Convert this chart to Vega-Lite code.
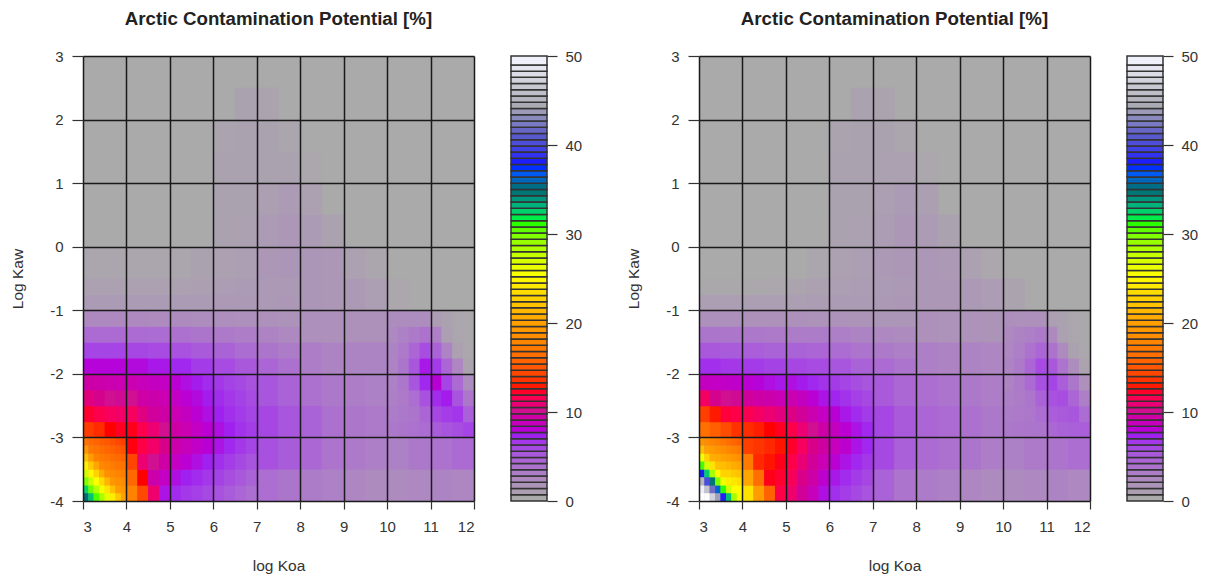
{"$schema":"https://vega.github.io/schema/vega-lite/v6.json","background":"white","padding":{"left":10,"top":10,"right":0,"bottom":0},
"config":{"view":{"stroke":null},"font":"Liberation Sans"},
"datasets":{
"bar":[{"a":0,"b":0.7},{"a":0.7,"b":1.4},{"a":1.4,"b":2.1},{"a":2.1,"b":2.8},{"a":2.8,"b":3.5},{"a":3.5,"b":4.2},{"a":4.2,"b":4.9},{"a":4.9,"b":5.6},{"a":5.6,"b":6.3},{"a":6.3,"b":7},{"a":7,"b":7.7},{"a":7.7,"b":8.4},{"a":8.4,"b":9.1},{"a":9.1,"b":9.8},{"a":9.8,"b":10.5},{"a":10.5,"b":11.2},{"a":11.2,"b":11.9},{"a":11.9,"b":12.6},{"a":12.6,"b":13.3},{"a":13.3,"b":14},{"a":14,"b":14.7},{"a":14.7,"b":15.4},{"a":15.4,"b":16.1},{"a":16.1,"b":16.8},{"a":16.8,"b":17.5},{"a":17.5,"b":18.2},{"a":18.2,"b":18.9},{"a":18.9,"b":19.6},{"a":19.6,"b":20.3},{"a":20.3,"b":21},{"a":21,"b":21.7},{"a":21.7,"b":22.4},{"a":22.4,"b":23.1},{"a":23.1,"b":23.8},{"a":23.8,"b":24.5},{"a":24.5,"b":25.2},{"a":25.2,"b":25.9},{"a":25.9,"b":26.6},{"a":26.6,"b":27.3},{"a":27.3,"b":28},{"a":28,"b":28.7},{"a":28.7,"b":29.4},{"a":29.4,"b":30.1},{"a":30.1,"b":30.8},{"a":30.8,"b":31.5},{"a":31.5,"b":32.2},{"a":32.2,"b":32.9},{"a":32.9,"b":33.6},{"a":33.6,"b":34.3},{"a":34.3,"b":35},{"a":35,"b":35.7},{"a":35.7,"b":36.4},{"a":36.4,"b":37.1},{"a":37.1,"b":37.8},{"a":37.8,"b":38.5},{"a":38.5,"b":39.2},{"a":39.2,"b":39.9},{"a":39.9,"b":40.6},{"a":40.6,"b":41.3},{"a":41.3,"b":42},{"a":42,"b":42.7},{"a":42.7,"b":43.4},{"a":43.4,"b":44.1},{"a":44.1,"b":44.8},{"a":44.8,"b":45.5},{"a":45.5,"b":46.2},{"a":46.2,"b":46.9},{"a":46.9,"b":47.6},{"a":47.6,"b":48.3},{"a":48.3,"b":49},{"a":49,"b":50}],
"a_f":[
{"x":3.06,"y":-3.94,"v":34.6},{"x":3.19,"y":-3.94,"v":32.5},{"x":3.31,"y":-3.94,"v":30.4},{"x":3.44,"y":-3.94,"v":28.3},{"x":3.56,"y":-3.94,"v":26.1},{"x":3.69,"y":-3.94,"v":24},{"x":3.81,"y":-3.94,"v":21.9},{"x":3.94,"y":-3.94,"v":19.8},
{"x":3.06,"y":-3.81,"v":32},{"x":3.19,"y":-3.81,"v":29.9},{"x":3.31,"y":-3.81,"v":27.8},{"x":3.44,"y":-3.81,"v":25.6},{"x":3.56,"y":-3.81,"v":23.5},{"x":3.69,"y":-3.81,"v":21.4},{"x":3.81,"y":-3.81,"v":19.3},{"x":3.94,"y":-3.81,"v":18.9},
{"x":3.06,"y":-3.69,"v":29.4},{"x":3.19,"y":-3.69,"v":27.3},{"x":3.31,"y":-3.69,"v":25.1},{"x":3.44,"y":-3.69,"v":23},{"x":3.56,"y":-3.69,"v":20.9},{"x":3.69,"y":-3.69,"v":18.8},{"x":3.81,"y":-3.69,"v":18.4},{"x":3.94,"y":-3.69,"v":18},
{"x":3.06,"y":-3.56,"v":26.8},{"x":3.19,"y":-3.56,"v":24.6},{"x":3.31,"y":-3.56,"v":22.5},{"x":3.44,"y":-3.56,"v":20.4},{"x":3.56,"y":-3.56,"v":18.3},{"x":3.69,"y":-3.56,"v":17.9},{"x":3.81,"y":-3.56,"v":17.5},{"x":3.94,"y":-3.56,"v":17.1},
{"x":3.06,"y":-3.44,"v":24.1},{"x":3.19,"y":-3.44,"v":22},{"x":3.31,"y":-3.44,"v":19.9},{"x":3.44,"y":-3.44,"v":17.8},{"x":3.56,"y":-3.44,"v":17.4},{"x":3.69,"y":-3.44,"v":17},{"x":3.81,"y":-3.44,"v":16.6},{"x":3.94,"y":-3.44,"v":16.3},
{"x":3.06,"y":-3.31,"v":21.5},{"x":3.19,"y":-3.31,"v":19.4},{"x":3.31,"y":-3.31,"v":17.3},{"x":3.44,"y":-3.31,"v":16.9},{"x":3.56,"y":-3.31,"v":16.5},{"x":3.69,"y":-3.31,"v":16.1},{"x":3.81,"y":-3.31,"v":15.8},{"x":3.94,"y":-3.31,"v":15.4},
{"x":3.06,"y":-3.19,"v":18.9},{"x":3.19,"y":-3.19,"v":16.8},{"x":3.31,"y":-3.19,"v":16.4},{"x":3.44,"y":-3.19,"v":16},{"x":3.56,"y":-3.19,"v":15.6},{"x":3.69,"y":-3.19,"v":15.3},{"x":3.81,"y":-3.19,"v":14.9},{"x":3.94,"y":-3.19,"v":14.5},
{"x":3.06,"y":-3.06,"v":16.3},{"x":3.19,"y":-3.06,"v":15.9},{"x":3.31,"y":-3.06,"v":15.5},{"x":3.44,"y":-3.06,"v":15.1},{"x":3.56,"y":-3.06,"v":14.8},{"x":3.69,"y":-3.06,"v":14.4},{"x":3.81,"y":-3.06,"v":14},{"x":3.94,"y":-3.06,"v":13.6}],
"a_m":[
{"x":4.13,"y":-3.88,"v":17.4},{"x":4.38,"y":-3.88,"v":14.1},{"x":4.63,"y":-3.88,"v":10.7},{"x":4.88,"y":-3.88,"v":7.3},
{"x":4.13,"y":-3.63,"v":15.7},{"x":4.38,"y":-3.63,"v":12.3},{"x":4.63,"y":-3.63,"v":8.9},{"x":4.88,"y":-3.63,"v":8.2},
{"x":4.13,"y":-3.38,"v":13.9},{"x":4.38,"y":-3.38,"v":10.6},{"x":4.63,"y":-3.38,"v":9.8},{"x":4.88,"y":-3.38,"v":9.1},
{"x":4.13,"y":-3.13,"v":12.2},{"x":4.38,"y":-3.13,"v":11.4},{"x":4.63,"y":-3.13,"v":10.8},{"x":4.88,"y":-3.13,"v":10},
{"x":3.13,"y":-2.88,"v":13.5},{"x":3.38,"y":-2.88,"v":13},{"x":3.63,"y":-2.88,"v":12.3},{"x":3.88,"y":-2.88,"v":12},{"x":4.13,"y":-2.88,"v":12.1},{"x":4.38,"y":-2.88,"v":11.3},{"x":4.63,"y":-2.88,"v":10.6},{"x":4.88,"y":-2.88,"v":9.8},
{"x":3.13,"y":-2.63,"v":11.8},{"x":3.38,"y":-2.63,"v":11.3},{"x":3.63,"y":-2.63,"v":11},{"x":3.88,"y":-2.63,"v":10.8},{"x":4.13,"y":-2.63,"v":11},{"x":4.38,"y":-2.63,"v":10.2},{"x":4.63,"y":-2.63,"v":9.4},{"x":4.88,"y":-2.63,"v":9.1},
{"x":3.13,"y":-2.38,"v":10.3},{"x":3.38,"y":-2.38,"v":9.9},{"x":3.63,"y":-2.38,"v":9.8},{"x":3.88,"y":-2.38,"v":9.7},{"x":4.13,"y":-2.38,"v":9.8},{"x":4.38,"y":-2.38,"v":9.1},{"x":4.63,"y":-2.38,"v":8.9},{"x":4.88,"y":-2.38,"v":8.7},
{"x":3.13,"y":-2.13,"v":9},{"x":3.38,"y":-2.13,"v":8.9},{"x":3.63,"y":-2.13,"v":8.8},{"x":3.88,"y":-2.13,"v":8.7},{"x":4.13,"y":-2.13,"v":8.7},{"x":4.38,"y":-2.13,"v":8.5},{"x":4.63,"y":-2.13,"v":8.3},{"x":4.88,"y":-2.13,"v":8.2},
{"x":5.13,"y":-3.88,"v":6.7},{"x":5.38,"y":-3.88,"v":6.3},{"x":5.63,"y":-3.88,"v":6},{"x":5.88,"y":-3.88,"v":5.6},{"x":6.13,"y":-3.88,"v":5.2},{"x":6.38,"y":-3.88,"v":4.7},{"x":6.63,"y":-3.88,"v":4.2},{"x":6.88,"y":-3.88,"v":3.7},
{"x":5.13,"y":-3.63,"v":7.4},{"x":5.38,"y":-3.63,"v":7},{"x":5.63,"y":-3.63,"v":6.7},{"x":5.88,"y":-3.63,"v":6.3},{"x":6.13,"y":-3.63,"v":5.9},{"x":6.38,"y":-3.63,"v":5.4},{"x":6.63,"y":-3.63,"v":4.9},{"x":6.88,"y":-3.63,"v":4.4},
{"x":5.13,"y":-3.38,"v":8.2},{"x":5.38,"y":-3.38,"v":7.8},{"x":5.63,"y":-3.38,"v":7.4},{"x":5.88,"y":-3.38,"v":7},{"x":6.13,"y":-3.38,"v":6.6},{"x":6.38,"y":-3.38,"v":6.1},{"x":6.63,"y":-3.38,"v":5.6},{"x":6.88,"y":-3.38,"v":5.1},
{"x":5.13,"y":-3.13,"v":8.9},{"x":5.38,"y":-3.13,"v":8.5},{"x":5.63,"y":-3.13,"v":8.1},{"x":5.88,"y":-3.13,"v":7.7},{"x":6.13,"y":-3.13,"v":7.3},{"x":6.38,"y":-3.13,"v":6.8},{"x":6.63,"y":-3.13,"v":6.3},{"x":6.88,"y":-3.13,"v":5.8},
{"x":5.13,"y":-2.88,"v":9.1},{"x":5.38,"y":-2.88,"v":8.7},{"x":5.63,"y":-2.88,"v":8.2},{"x":5.88,"y":-2.88,"v":7.8},{"x":6.13,"y":-2.88,"v":7.4},{"x":6.38,"y":-2.88,"v":7},{"x":6.63,"y":-2.88,"v":6.5},{"x":6.88,"y":-2.88,"v":6.1},
{"x":5.13,"y":-2.63,"v":8.7},{"x":5.38,"y":-2.63,"v":8.3},{"x":5.63,"y":-2.63,"v":7.8},{"x":5.88,"y":-2.63,"v":7.4},{"x":6.13,"y":-2.63,"v":7},{"x":6.38,"y":-2.63,"v":6.6},{"x":6.63,"y":-2.63,"v":6.2},{"x":6.88,"y":-2.63,"v":5.8},
{"x":5.13,"y":-2.38,"v":8.2},{"x":5.38,"y":-2.38,"v":7.8},{"x":5.63,"y":-2.38,"v":7.5},{"x":5.88,"y":-2.38,"v":7.1},{"x":6.13,"y":-2.38,"v":6.7},{"x":6.38,"y":-2.38,"v":6.3},{"x":6.63,"y":-2.38,"v":5.9},{"x":6.88,"y":-2.38,"v":5.5},
{"x":5.13,"y":-2.13,"v":7.8},{"x":5.38,"y":-2.13,"v":7.4},{"x":5.63,"y":-2.13,"v":7.1},{"x":5.88,"y":-2.13,"v":6.7},{"x":6.13,"y":-2.13,"v":6.3},{"x":6.38,"y":-2.13,"v":5.9},{"x":6.63,"y":-2.13,"v":5.6},{"x":6.88,"y":-2.13,"v":5.2},
{"x":10.13,"y":-2.88,"v":3.1},{"x":10.38,"y":-2.88,"v":3.3},{"x":10.63,"y":-2.88,"v":3.6},{"x":10.88,"y":-2.88,"v":3.8},{"x":11.13,"y":-2.88,"v":4.7},{"x":11.38,"y":-2.88,"v":5.1},{"x":11.63,"y":-2.88,"v":5.4},{"x":11.88,"y":-2.88,"v":5.8},
{"x":10.13,"y":-2.63,"v":2.9},{"x":10.38,"y":-2.63,"v":3.1},{"x":10.63,"y":-2.63,"v":3.3},{"x":10.88,"y":-2.63,"v":4.2},{"x":11.13,"y":-2.63,"v":5.7},{"x":11.38,"y":-2.63,"v":6.1},{"x":11.63,"y":-2.63,"v":6.4},{"x":11.88,"y":-2.63,"v":4.5},
{"x":10.13,"y":-2.38,"v":2.7},{"x":10.38,"y":-2.38,"v":3},{"x":10.63,"y":-2.38,"v":3.7},{"x":10.88,"y":-2.38,"v":5.2},{"x":11.13,"y":-2.38,"v":6.7},{"x":11.38,"y":-2.38,"v":7.1},{"x":11.63,"y":-2.38,"v":5.1},{"x":11.88,"y":-2.38,"v":3.2},
{"x":10.13,"y":-2.13,"v":2.6},{"x":10.38,"y":-2.13,"v":3.2},{"x":10.63,"y":-2.13,"v":5},{"x":10.88,"y":-2.13,"v":6.8},{"x":11.13,"y":-2.13,"v":7.7},{"x":11.38,"y":-2.13,"v":5.8},{"x":11.63,"y":-2.13,"v":3.9},{"x":11.88,"y":-2.13,"v":1.9},
{"x":10.13,"y":-1.88,"v":2.5},{"x":10.38,"y":-1.88,"v":3.3},{"x":10.63,"y":-1.88,"v":5},{"x":10.88,"y":-1.88,"v":7.2},{"x":11.13,"y":-1.88,"v":6.2},{"x":11.38,"y":-1.88,"v":4.2},{"x":11.63,"y":-1.88,"v":2.3},{"x":11.88,"y":-1.88,"v":0.4},
{"x":10.13,"y":-1.63,"v":2.4},{"x":10.38,"y":-1.63,"v":3},{"x":10.63,"y":-1.63,"v":4.2},{"x":10.88,"y":-1.63,"v":5.4},{"x":11.13,"y":-1.63,"v":4.4},{"x":11.38,"y":-1.63,"v":2.5},{"x":11.63,"y":-1.63,"v":0.6},{"x":11.88,"y":-1.63,"v":0.2},
{"x":10.13,"y":-1.38,"v":2.2},{"x":10.38,"y":-1.38,"v":2.6},{"x":10.63,"y":-1.38,"v":3},{"x":10.88,"y":-1.38,"v":3.5},{"x":11.13,"y":-1.38,"v":2.7},{"x":11.38,"y":-1.38,"v":0.7},{"x":11.63,"y":-1.38,"v":0.3},{"x":11.88,"y":-1.38,"v":0.1},
{"x":10.13,"y":-1.13,"v":1.9},{"x":10.38,"y":-1.13,"v":1.9},{"x":10.63,"y":-1.13,"v":1.9},{"x":10.88,"y":-1.13,"v":1.9},{"x":11.13,"y":-1.13,"v":0.9},{"x":11.38,"y":-1.13,"v":0.6},{"x":11.63,"y":-1.13,"v":0.3},{"x":11.88,"y":-1.13,"v":0.1}],
"a_w":[
{"x":3.25,"y":-1.88,"v":7.6},{"x":3.75,"y":-1.88,"v":7.6},{"x":4.25,"y":-1.88,"v":7.5},{"x":4.75,"y":-1.88,"v":7.2},{"x":5.25,"y":-1.88,"v":6.8},{"x":5.75,"y":-1.88,"v":6.2},{"x":6.25,"y":-1.88,"v":5.5},{"x":6.75,"y":-1.88,"v":4.9},{"x":7.25,"y":-1.88,"v":4.2},{"x":7.75,"y":-1.88,"v":3.6},
{"x":3.25,"y":-1.63,"v":5.8},{"x":3.75,"y":-1.63,"v":5.8},{"x":4.25,"y":-1.63,"v":5.7},{"x":4.75,"y":-1.63,"v":5.5},{"x":5.25,"y":-1.63,"v":5.2},{"x":5.75,"y":-1.63,"v":4.8},{"x":6.25,"y":-1.63,"v":4.3},{"x":6.75,"y":-1.63,"v":3.8},{"x":7.25,"y":-1.63,"v":3.3},{"x":7.75,"y":-1.63,"v":2.9},
{"x":3.25,"y":-1.38,"v":3.9},{"x":3.75,"y":-1.38,"v":3.9},{"x":4.25,"y":-1.38,"v":3.9},{"x":4.75,"y":-1.38,"v":3.8},{"x":5.25,"y":-1.38,"v":3.6},{"x":5.75,"y":-1.38,"v":3.3},{"x":6.25,"y":-1.38,"v":3},{"x":6.75,"y":-1.38,"v":2.8},{"x":7.25,"y":-1.38,"v":2.5},{"x":7.75,"y":-1.38,"v":2.2},
{"x":3.25,"y":-1.13,"v":2.1},{"x":3.75,"y":-1.13,"v":2.1},{"x":4.25,"y":-1.13,"v":2.1},{"x":4.75,"y":-1.13,"v":2},{"x":5.25,"y":-1.13,"v":2},{"x":5.75,"y":-1.13,"v":1.9},{"x":6.25,"y":-1.13,"v":1.8},{"x":6.75,"y":-1.13,"v":1.7},{"x":7.25,"y":-1.13,"v":1.6},{"x":7.75,"y":-1.13,"v":1.5},
{"x":3.25,"y":-0.88,"v":1},{"x":3.75,"y":-0.88,"v":1},{"x":4.25,"y":-0.88,"v":1},{"x":4.75,"y":-0.88,"v":1},{"x":5.25,"y":-0.88,"v":1},{"x":5.75,"y":-0.88,"v":1},{"x":6.25,"y":-0.88,"v":1.1},{"x":6.75,"y":-0.88,"v":1.1},{"x":7.25,"y":-0.88,"v":1.1},{"x":7.75,"y":-0.88,"v":1.2},
{"x":3.25,"y":-0.63,"v":0.6},{"x":3.75,"y":-0.63,"v":0.6},{"x":4.25,"y":-0.63,"v":0.6},{"x":4.75,"y":-0.63,"v":0.6},{"x":5.25,"y":-0.63,"v":0.6},{"x":5.75,"y":-0.63,"v":0.7},{"x":6.25,"y":-0.63,"v":0.9},{"x":6.75,"y":-0.63,"v":1},{"x":7.25,"y":-0.63,"v":1.1},{"x":7.75,"y":-0.63,"v":1.1}],
"a_c":[
{"x":7.25,"y":-3.75,"v":3.7},{"x":7.75,"y":-3.75,"v":3.3},{"x":8.25,"y":-3.75,"v":2.9},{"x":8.75,"y":-3.75,"v":2.6},{"x":9.25,"y":-3.75,"v":2.3},{"x":9.75,"y":-3.75,"v":2},{"x":10.25,"y":-3.75,"v":2},{"x":10.75,"y":-3.75,"v":2.2},{"x":11.25,"y":-3.75,"v":2.4},{"x":11.75,"y":-3.75,"v":2.3},
{"x":7.25,"y":-3.25,"v":5.3},{"x":7.75,"y":-3.25,"v":4.7},{"x":8.25,"y":-3.25,"v":4.1},{"x":8.75,"y":-3.25,"v":3.4},{"x":9.25,"y":-3.25,"v":3},{"x":9.75,"y":-3.25,"v":2.7},{"x":10.25,"y":-3.25,"v":2.6},{"x":10.75,"y":-3.25,"v":3.1},{"x":11.25,"y":-3.25,"v":3.5},{"x":11.75,"y":-3.25,"v":3.9},
{"x":7.25,"y":-2.75,"v":5.7},{"x":7.75,"y":-2.75,"v":5},{"x":8.25,"y":-2.75,"v":4.3},{"x":8.75,"y":-2.75,"v":3.6},{"x":9.25,"y":-2.75,"v":3.2},{"x":9.75,"y":-2.75,"v":3},
{"x":7.25,"y":-2.25,"v":5},{"x":7.75,"y":-2.25,"v":4.3},{"x":8.25,"y":-2.25,"v":3.6},{"x":8.75,"y":-2.25,"v":3.1},{"x":9.25,"y":-2.25,"v":2.8},{"x":9.75,"y":-2.25,"v":2.6},
{"x":8.25,"y":-1.75,"v":2.8},{"x":8.75,"y":-1.75,"v":2.4},{"x":9.25,"y":-1.75,"v":2.4},{"x":9.75,"y":-1.75,"v":2.4},
{"x":8.25,"y":-1.25,"v":1.7},{"x":8.75,"y":-1.25,"v":1.6},{"x":9.25,"y":-1.25,"v":1.6},{"x":9.75,"y":-1.25,"v":1.6},
{"x":8.25,"y":-0.75,"v":1.3},{"x":8.75,"y":-0.75,"v":1.2},{"x":9.25,"y":-0.75,"v":1.1},{"x":9.75,"y":-0.75,"v":0.8},{"x":10.25,"y":-0.75,"v":0.2},
{"x":3.25,"y":-0.25,"v":0.3},{"x":3.75,"y":-0.25,"v":0.3},{"x":4.25,"y":-0.25,"v":0.3},{"x":4.75,"y":-0.25,"v":0.3},{"x":5.25,"y":-0.25,"v":0.3},{"x":5.75,"y":-0.25,"v":0.5},{"x":6.25,"y":-0.25,"v":0.6},{"x":6.75,"y":-0.25,"v":0.8},{"x":7.25,"y":-0.25,"v":1.2},{"x":7.75,"y":-0.25,"v":1.3},{"x":8.25,"y":-0.25,"v":1.3},{"x":8.75,"y":-0.25,"v":1.2},{"x":9.25,"y":-0.25,"v":0.6},{"x":9.75,"y":-0.25,"v":0.3},
{"x":6.25,"y":0.25,"v":0.5},{"x":6.75,"y":0.25,"v":0.6},{"x":7.25,"y":0.25,"v":1},{"x":7.75,"y":0.25,"v":1.2},{"x":8.25,"y":0.25,"v":1},{"x":8.75,"y":0.25,"v":0.5},
{"x":6.25,"y":0.75,"v":0.5},{"x":6.75,"y":0.75,"v":0.5},{"x":7.25,"y":0.75,"v":0.7},{"x":7.75,"y":0.75,"v":1},{"x":8.25,"y":0.75,"v":0.6},
{"x":6.25,"y":1.25,"v":0.5},{"x":6.75,"y":1.25,"v":0.5},{"x":7.25,"y":1.25,"v":0.5},{"x":7.75,"y":1.25,"v":0.5},{"x":8.25,"y":1.25,"v":0.2},
{"x":6.25,"y":1.75,"v":0.4},{"x":6.75,"y":1.75,"v":0.5},{"x":7.25,"y":1.75,"v":0.5},{"x":7.75,"y":1.75,"v":0.3},
{"x":6.75,"y":2.25,"v":0.5},{"x":7.25,"y":2.25,"v":0.4}],
"b_f":[
{"x":3.06,"y":-3.94,"v":52.7},{"x":3.19,"y":-3.94,"v":50},{"x":3.31,"y":-3.94,"v":46.9},{"x":3.44,"y":-3.94,"v":43.6},{"x":3.56,"y":-3.94,"v":37.9},{"x":3.69,"y":-3.94,"v":32.6},{"x":3.81,"y":-3.94,"v":28.3},{"x":3.94,"y":-3.94,"v":24.8},
{"x":3.06,"y":-3.81,"v":48.9},{"x":3.19,"y":-3.81,"v":45.8},{"x":3.31,"y":-3.81,"v":41.6},{"x":3.44,"y":-3.81,"v":36},{"x":3.56,"y":-3.81,"v":30.8},{"x":3.69,"y":-3.81,"v":27},{"x":3.81,"y":-3.81,"v":25},{"x":3.94,"y":-3.81,"v":24.8},
{"x":3.06,"y":-3.69,"v":44.7},{"x":3.19,"y":-3.69,"v":39.7},{"x":3.31,"y":-3.69,"v":34.3},{"x":3.44,"y":-3.69,"v":29.5},{"x":3.56,"y":-3.69,"v":25.7},{"x":3.69,"y":-3.69,"v":24},{"x":3.81,"y":-3.69,"v":23.7},{"x":3.94,"y":-3.69,"v":23.2},
{"x":3.06,"y":-3.56,"v":37.7},{"x":3.19,"y":-3.56,"v":32.3},{"x":3.31,"y":-3.56,"v":28.2},{"x":3.44,"y":-3.56,"v":24.6},{"x":3.56,"y":-3.56,"v":22.5},{"x":3.69,"y":-3.56,"v":22.6},{"x":3.81,"y":-3.56,"v":22},{"x":3.94,"y":-3.56,"v":21.6},
{"x":3.06,"y":-3.44,"v":30.6},{"x":3.19,"y":-3.44,"v":26.8},{"x":3.31,"y":-3.44,"v":23.5},{"x":3.44,"y":-3.44,"v":21.5},{"x":3.56,"y":-3.44,"v":21.4},{"x":3.69,"y":-3.44,"v":20.9},{"x":3.81,"y":-3.44,"v":20.4},{"x":3.94,"y":-3.44,"v":19.9},
{"x":3.06,"y":-3.31,"v":25.5},{"x":3.19,"y":-3.31,"v":22.5},{"x":3.31,"y":-3.31,"v":20.5},{"x":3.44,"y":-3.31,"v":20.3},{"x":3.56,"y":-3.31,"v":19.8},{"x":3.69,"y":-3.31,"v":19.3},{"x":3.81,"y":-3.31,"v":18.8},{"x":3.94,"y":-3.31,"v":18.3},
{"x":3.06,"y":-3.19,"v":21.4},{"x":3.19,"y":-3.19,"v":19.5},{"x":3.31,"y":-3.19,"v":19.2},{"x":3.44,"y":-3.19,"v":18.7},{"x":3.56,"y":-3.19,"v":18.2},{"x":3.69,"y":-3.19,"v":17.7},{"x":3.81,"y":-3.19,"v":17.2},{"x":3.94,"y":-3.19,"v":16.7},
{"x":3.06,"y":-3.06,"v":18.5},{"x":3.19,"y":-3.06,"v":18.1},{"x":3.31,"y":-3.06,"v":17.6},{"x":3.44,"y":-3.06,"v":17.1},{"x":3.56,"y":-3.06,"v":16.6},{"x":3.69,"y":-3.06,"v":16.1},{"x":3.81,"y":-3.06,"v":15.6},{"x":3.94,"y":-3.06,"v":15.1}],
"b_m":[
{"x":4.13,"y":-3.88,"v":23.4},{"x":4.38,"y":-3.88,"v":19.4},{"x":4.63,"y":-3.88,"v":15.4},{"x":4.88,"y":-3.88,"v":11.4},
{"x":4.13,"y":-3.63,"v":20.1},{"x":4.38,"y":-3.63,"v":16.1},{"x":4.63,"y":-3.63,"v":12.1},{"x":4.88,"y":-3.63,"v":11.8},
{"x":4.13,"y":-3.38,"v":16.9},{"x":4.38,"y":-3.38,"v":12.9},{"x":4.63,"y":-3.38,"v":12.5},{"x":4.88,"y":-3.38,"v":12.1},
{"x":4.13,"y":-3.13,"v":13.6},{"x":4.38,"y":-3.13,"v":13.3},{"x":4.63,"y":-3.13,"v":12.9},{"x":4.88,"y":-3.13,"v":12.5},
{"x":3.13,"y":-2.88,"v":16.2},{"x":3.38,"y":-2.88,"v":15.2},{"x":3.63,"y":-2.88,"v":14.2},{"x":3.88,"y":-2.88,"v":13.2},{"x":4.13,"y":-2.88,"v":13},{"x":4.38,"y":-2.88,"v":12.7},{"x":4.63,"y":-2.88,"v":12.3},{"x":4.88,"y":-2.88,"v":12},
{"x":3.13,"y":-2.63,"v":13.6},{"x":3.38,"y":-2.63,"v":12.6},{"x":3.63,"y":-2.63,"v":11.6},{"x":3.88,"y":-2.63,"v":11.4},{"x":4.13,"y":-2.63,"v":11.2},{"x":4.38,"y":-2.63,"v":10.9},{"x":4.63,"y":-2.63,"v":10.6},{"x":4.88,"y":-2.63,"v":10.3},
{"x":3.13,"y":-2.38,"v":10.9},{"x":3.38,"y":-2.38,"v":9.9},{"x":3.63,"y":-2.38,"v":9.8},{"x":3.88,"y":-2.38,"v":9.7},{"x":4.13,"y":-2.38,"v":9.4},{"x":4.38,"y":-2.38,"v":9.1},{"x":4.63,"y":-2.38,"v":8.9},{"x":4.88,"y":-2.38,"v":8.6},
{"x":3.13,"y":-2.13,"v":8.3},{"x":3.38,"y":-2.13,"v":8.2},{"x":3.63,"y":-2.13,"v":8.1},{"x":3.88,"y":-2.13,"v":8},{"x":4.13,"y":-2.13,"v":7.8},{"x":4.38,"y":-2.13,"v":7.6},{"x":4.63,"y":-2.13,"v":7.4},{"x":4.88,"y":-2.13,"v":7.2},
{"x":5.13,"y":-3.88,"v":10.7},{"x":5.38,"y":-3.88,"v":9.5},{"x":5.63,"y":-3.88,"v":8.5},{"x":5.88,"y":-3.88,"v":7.4},{"x":6.13,"y":-3.88,"v":6.6},{"x":6.38,"y":-3.88,"v":6.1},{"x":6.63,"y":-3.88,"v":5.6},{"x":6.88,"y":-3.88,"v":5.1},
{"x":5.13,"y":-3.63,"v":11.1},{"x":5.38,"y":-3.63,"v":10},{"x":5.63,"y":-3.63,"v":9},{"x":5.88,"y":-3.63,"v":7.9},{"x":6.13,"y":-3.63,"v":7.2},{"x":6.38,"y":-3.63,"v":6.7},{"x":6.63,"y":-3.63,"v":6.2},{"x":6.88,"y":-3.63,"v":5.7},
{"x":5.13,"y":-3.38,"v":11.4},{"x":5.38,"y":-3.38,"v":10.5},{"x":5.63,"y":-3.38,"v":9.5},{"x":5.88,"y":-3.38,"v":8.6},{"x":6.13,"y":-3.38,"v":7.8},{"x":6.38,"y":-3.38,"v":7.3},{"x":6.63,"y":-3.38,"v":6.8},{"x":6.88,"y":-3.38,"v":6.3},
{"x":5.13,"y":-3.13,"v":11.9},{"x":5.38,"y":-3.13,"v":11},{"x":5.63,"y":-3.13,"v":10},{"x":5.88,"y":-3.13,"v":9.2},{"x":6.13,"y":-3.13,"v":8.4},{"x":6.38,"y":-3.13,"v":7.9},{"x":6.63,"y":-3.13,"v":7.3},{"x":6.88,"y":-3.13,"v":6.8},
{"x":5.13,"y":-2.88,"v":11.4},{"x":5.38,"y":-2.88,"v":10.6},{"x":5.63,"y":-2.88,"v":9.8},{"x":5.88,"y":-2.88,"v":9},{"x":6.13,"y":-2.88,"v":8.3},{"x":6.38,"y":-2.88,"v":7.8},{"x":6.63,"y":-2.88,"v":7.3},{"x":6.88,"y":-2.88,"v":6.8},
{"x":5.13,"y":-2.63,"v":10.1},{"x":5.38,"y":-2.63,"v":9.5},{"x":5.63,"y":-2.63,"v":8.8},{"x":5.88,"y":-2.63,"v":8.2},{"x":6.13,"y":-2.63,"v":7.7},{"x":6.38,"y":-2.63,"v":7.2},{"x":6.63,"y":-2.63,"v":6.7},{"x":6.88,"y":-2.63,"v":6.2},
{"x":5.13,"y":-2.38,"v":8.8},{"x":5.38,"y":-2.38,"v":8.3},{"x":5.63,"y":-2.38,"v":7.8},{"x":5.88,"y":-2.38,"v":7.3},{"x":6.13,"y":-2.38,"v":6.9},{"x":6.38,"y":-2.38,"v":6.5},{"x":6.63,"y":-2.38,"v":6},{"x":6.88,"y":-2.38,"v":5.6},
{"x":5.13,"y":-2.13,"v":7.4},{"x":5.38,"y":-2.13,"v":7.1},{"x":5.63,"y":-2.13,"v":6.8},{"x":5.88,"y":-2.13,"v":6.5},{"x":6.13,"y":-2.13,"v":6.2},{"x":6.38,"y":-2.13,"v":5.8},{"x":6.63,"y":-2.13,"v":5.4},{"x":6.88,"y":-2.13,"v":5},
{"x":10.13,"y":-2.88,"v":3.1},{"x":10.38,"y":-2.88,"v":3.2},{"x":10.63,"y":-2.88,"v":3.3},{"x":10.88,"y":-2.88,"v":3.4},{"x":11.13,"y":-2.88,"v":4.1},{"x":11.38,"y":-2.88,"v":4.3},{"x":11.63,"y":-2.88,"v":4.5},{"x":11.88,"y":-2.88,"v":4.6},
{"x":10.13,"y":-2.63,"v":2.9},{"x":10.38,"y":-2.63,"v":3},{"x":10.63,"y":-2.63,"v":3.2},{"x":10.88,"y":-2.63,"v":3.7},{"x":11.13,"y":-2.63,"v":4.6},{"x":11.38,"y":-2.63,"v":4.8},{"x":11.63,"y":-2.63,"v":5},{"x":11.88,"y":-2.63,"v":3.8},
{"x":10.13,"y":-2.38,"v":2.7},{"x":10.38,"y":-2.38,"v":2.9},{"x":10.63,"y":-2.38,"v":3.3},{"x":10.88,"y":-2.38,"v":4.4},{"x":11.13,"y":-2.38,"v":5.2},{"x":11.38,"y":-2.38,"v":5.4},{"x":11.63,"y":-2.38,"v":4.2},{"x":11.88,"y":-2.38,"v":2.7},
{"x":10.13,"y":-2.13,"v":2.5},{"x":10.38,"y":-2.13,"v":3},{"x":10.63,"y":-2.13,"v":3.9},{"x":10.88,"y":-2.13,"v":5.3},{"x":11.13,"y":-2.13,"v":5.8},{"x":11.38,"y":-2.13,"v":4.6},{"x":11.63,"y":-2.13,"v":3.2},{"x":11.88,"y":-2.13,"v":1.6},
{"x":10.13,"y":-1.88,"v":2.5},{"x":10.38,"y":-1.88,"v":3},{"x":10.63,"y":-1.88,"v":4.2},{"x":10.88,"y":-1.88,"v":5.5},{"x":11.13,"y":-1.88,"v":4.9},{"x":11.38,"y":-1.88,"v":3.4},{"x":11.63,"y":-1.88,"v":1.9},{"x":11.88,"y":-1.88,"v":0.4},
{"x":10.13,"y":-1.63,"v":2.3},{"x":10.38,"y":-1.63,"v":2.7},{"x":10.63,"y":-1.63,"v":3.5},{"x":10.88,"y":-1.63,"v":4.2},{"x":11.13,"y":-1.63,"v":3.5},{"x":11.38,"y":-1.63,"v":2},{"x":11.63,"y":-1.63,"v":0.5},{"x":11.88,"y":-1.63,"v":0.2},
{"x":10.13,"y":-1.38,"v":2.1},{"x":10.38,"y":-1.38,"v":2.4},{"x":10.63,"y":-1.38,"v":2.7},{"x":10.88,"y":-1.38,"v":3},{"x":11.13,"y":-1.38,"v":2.1},{"x":11.38,"y":-1.38,"v":0.6},{"x":11.63,"y":-1.38,"v":0.3},{"x":11.88,"y":-1.38,"v":0.1},
{"x":10.13,"y":-1.13,"v":1.8},{"x":10.38,"y":-1.13,"v":1.7},{"x":10.63,"y":-1.13,"v":1.6},{"x":10.88,"y":-1.13,"v":1.6},{"x":11.13,"y":-1.13,"v":0.8},{"x":11.38,"y":-1.13,"v":0.5},{"x":11.63,"y":-1.13,"v":0.3},{"x":11.88,"y":-1.13,"v":0.1}],
"b_w":[
{"x":3.25,"y":-1.88,"v":6.6},{"x":3.75,"y":-1.88,"v":6.3},{"x":4.25,"y":-1.88,"v":6.2},{"x":4.75,"y":-1.88,"v":5.9},{"x":5.25,"y":-1.88,"v":5.7},{"x":5.75,"y":-1.88,"v":5.5},{"x":6.25,"y":-1.88,"v":5},{"x":6.75,"y":-1.88,"v":4.4},{"x":7.25,"y":-1.88,"v":3.9},{"x":7.75,"y":-1.88,"v":3.4},
{"x":3.25,"y":-1.63,"v":4.9},{"x":3.75,"y":-1.63,"v":4.7},{"x":4.25,"y":-1.63,"v":4.6},{"x":4.75,"y":-1.63,"v":4.4},{"x":5.25,"y":-1.63,"v":4.3},{"x":5.75,"y":-1.63,"v":4.2},{"x":6.25,"y":-1.63,"v":3.8},{"x":6.75,"y":-1.63,"v":3.4},{"x":7.25,"y":-1.63,"v":3},{"x":7.75,"y":-1.63,"v":2.7},
{"x":3.25,"y":-1.38,"v":3.3},{"x":3.75,"y":-1.38,"v":3.2},{"x":4.25,"y":-1.38,"v":3.1},{"x":4.75,"y":-1.38,"v":3},{"x":5.25,"y":-1.38,"v":2.9},{"x":5.75,"y":-1.38,"v":2.9},{"x":6.25,"y":-1.38,"v":2.7},{"x":6.75,"y":-1.38,"v":2.4},{"x":7.25,"y":-1.38,"v":2.2},{"x":7.75,"y":-1.38,"v":2},
{"x":3.25,"y":-1.13,"v":1.7},{"x":3.75,"y":-1.13,"v":1.7},{"x":4.25,"y":-1.13,"v":1.6},{"x":4.75,"y":-1.13,"v":1.6},{"x":5.25,"y":-1.13,"v":1.6},{"x":5.75,"y":-1.13,"v":1.5},{"x":6.25,"y":-1.13,"v":1.5},{"x":6.75,"y":-1.13,"v":1.4},{"x":7.25,"y":-1.13,"v":1.3},{"x":7.75,"y":-1.13,"v":1.3},
{"x":3.25,"y":-0.88,"v":0.8},{"x":3.75,"y":-0.88,"v":0.8},{"x":4.25,"y":-0.88,"v":0.8},{"x":4.75,"y":-0.88,"v":0.8},{"x":5.25,"y":-0.88,"v":0.8},{"x":5.75,"y":-0.88,"v":0.9},{"x":6.25,"y":-0.88,"v":1},{"x":6.75,"y":-0.88,"v":1},{"x":7.25,"y":-0.88,"v":1.1},{"x":7.75,"y":-0.88,"v":1.2},
{"x":3.25,"y":-0.63,"v":0.1},{"x":3.75,"y":-0.63,"v":0.1},{"x":4.25,"y":-0.63,"v":0.1},{"x":4.75,"y":-0.63,"v":0.2},{"x":5.25,"y":-0.63,"v":0.4},{"x":5.75,"y":-0.63,"v":0.6},{"x":6.25,"y":-0.63,"v":0.8},{"x":6.75,"y":-0.63,"v":0.9},{"x":7.25,"y":-0.63,"v":1},{"x":7.75,"y":-0.63,"v":1.1}],
"b_c":[
{"x":7.25,"y":-3.75,"v":4.3},{"x":7.75,"y":-3.75,"v":3.4},{"x":8.25,"y":-3.75,"v":2.9},{"x":8.75,"y":-3.75,"v":2.6},{"x":9.25,"y":-3.75,"v":2.3},{"x":9.75,"y":-3.75,"v":2},{"x":10.25,"y":-3.75,"v":2},{"x":10.75,"y":-3.75,"v":2.2},{"x":11.25,"y":-3.75,"v":2.4},{"x":11.75,"y":-3.75,"v":2.2},
{"x":7.25,"y":-3.25,"v":5.6},{"x":7.75,"y":-3.25,"v":4.5},{"x":8.25,"y":-3.25,"v":3.9},{"x":8.75,"y":-3.25,"v":3.6},{"x":9.25,"y":-3.25,"v":3.3},{"x":9.75,"y":-3.25,"v":2.8},{"x":10.25,"y":-3.25,"v":2.6},{"x":10.75,"y":-3.25,"v":3},{"x":11.25,"y":-3.25,"v":3.4},{"x":11.75,"y":-3.25,"v":3.7},
{"x":7.25,"y":-2.75,"v":5.7},{"x":7.75,"y":-2.75,"v":4.8},{"x":8.25,"y":-2.75,"v":4.2},{"x":8.75,"y":-2.75,"v":3.9},{"x":9.25,"y":-2.75,"v":3.6},{"x":9.75,"y":-2.75,"v":3.1},
{"x":7.25,"y":-2.25,"v":4.8},{"x":7.75,"y":-2.25,"v":4.1},{"x":8.25,"y":-2.25,"v":3.7},{"x":8.75,"y":-2.25,"v":3.4},{"x":9.25,"y":-2.25,"v":3.1},{"x":9.75,"y":-2.25,"v":2.8},
{"x":8.25,"y":-1.75,"v":2.7},{"x":8.75,"y":-1.75,"v":2.5},{"x":9.25,"y":-1.75,"v":2.4},{"x":9.75,"y":-1.75,"v":2.3},
{"x":8.25,"y":-1.25,"v":1.6},{"x":8.75,"y":-1.25,"v":1.5},{"x":9.25,"y":-1.25,"v":1.5},{"x":9.75,"y":-1.25,"v":1.4},
{"x":8.25,"y":-0.75,"v":1.2},{"x":8.75,"y":-0.75,"v":1.2},{"x":9.25,"y":-0.75,"v":1.1},{"x":9.75,"y":-0.75,"v":0.9},{"x":10.25,"y":-0.75,"v":0.4},
{"x":5.75,"y":-0.25,"v":0.3},{"x":6.25,"y":-0.25,"v":0.6},{"x":6.75,"y":-0.25,"v":0.8},{"x":7.25,"y":-0.25,"v":1.1},{"x":7.75,"y":-0.25,"v":1.2},{"x":8.25,"y":-0.25,"v":1.2},{"x":8.75,"y":-0.25,"v":1.1},{"x":9.25,"y":-0.25,"v":0.6},{"x":9.75,"y":-0.25,"v":0.2},
{"x":6.25,"y":0.25,"v":0.5},{"x":6.75,"y":0.25,"v":0.6},{"x":7.25,"y":0.25,"v":0.9},{"x":7.75,"y":0.25,"v":1.2},{"x":8.25,"y":0.25,"v":1},{"x":8.75,"y":0.25,"v":0.5},
{"x":6.25,"y":0.75,"v":0.5},{"x":6.75,"y":0.75,"v":0.5},{"x":7.25,"y":0.75,"v":0.7},{"x":7.75,"y":0.75,"v":1},{"x":8.25,"y":0.75,"v":0.7},
{"x":6.25,"y":1.25,"v":0.5},{"x":6.75,"y":1.25,"v":0.5},{"x":7.25,"y":1.25,"v":0.6},{"x":7.75,"y":1.25,"v":0.6},{"x":8.25,"y":1.25,"v":0.2},
{"x":6.25,"y":1.75,"v":0.4},{"x":6.75,"y":1.75,"v":0.5},{"x":7.25,"y":1.75,"v":0.5},{"x":7.75,"y":1.75,"v":0.3},
{"x":6.75,"y":2.25,"v":0.5},{"x":7.25,"y":2.25,"v":0.4}]
},
"bounds":"flush","spacing":37,
"hconcat":[
{"width":391,"height":445,"view":{"fill":"#aaaaaa","stroke":null},
"title":{"text":"Arctic Contamination Potential [%]","font":"Liberation Sans","fontSize":18.7,"fontWeight":"bold","color":"#222222","offset":20},
"encoding":{
"x":{"field":"x","type":"quantitative","scale":{"domain":[3,12],"nice":false,"zero":false},"axis":{"title":"log Koa","values":[3,4,5,6,7,8,9,10,11,12],"format":"d","grid":true,"gridColor":"#1a1a1a","gridWidth":1.5,"gridOpacity":1,"zindex":1,"domain":false,"tickColor":"#333333","tickWidth":1.2,"tickSize":8,"labelFontSize":15,"labelColor":"#333333","labelPadding":10,"labelFont":"Liberation Sans","titleFont":"Liberation Sans","titleFontSize":15.5,"titleFontWeight":"normal","titleColor":"#333333","titlePadding":24,"labelOverlap":false}},
"y":{"field":"y","type":"quantitative","scale":{"domain":[-4,3],"nice":false,"zero":false},"axis":{"title":"Log Kaw","values":[-4,-3,-2,-1,0,1,2,3],"labelExpr":"'' + datum.value","grid":true,"gridColor":"#1a1a1a","gridWidth":1.5,"gridOpacity":1,"zindex":1,"domain":false,"tickColor":"#333333","tickWidth":1.2,"tickSize":11,"labelFontSize":15,"labelColor":"#333333","labelPadding":9,"labelFont":"Liberation Sans","titleFont":"Liberation Sans","titleFontSize":15.5,"titleFontWeight":"normal","titleColor":"#333333","titlePadding":24,"labelOverlap":false}},
"color":{"field":"v","type":"quantitative","legend":null,"scale":{"domain":[0,7,9.8,12.3,20,25,31,34.5,37.3,41,44,50],"range":["#aaaaaa","#a020f0","#d01090","#ff0000","#ffa500","#ffff00","#00ff00","#0a6e6e","#0000ff","#6060c8","#aaaab4","#ffffff"],"clamp":true}}},
"layer":[
{"data":{"name":"a_c"},"mark":{"type":"rect","width":22.3,"height":32.4,"clip":true}},
{"data":{"name":"a_w"},"mark":{"type":"rect","width":22.3,"height":16.5,"clip":true}},
{"data":{"name":"a_m"},"mark":{"type":"rect","width":11.5,"height":16.5,"clip":true}},
{"data":{"name":"a_f"},"mark":{"type":"rect","width":6,"height":8.6,"clip":true}}]},
{"width":36,"height":445,"data":{"name":"bar"},"mark":{"type":"rect","stroke":"#333333","strokeWidth":1.5},
"encoding":{
"y":{"field":"a","type":"quantitative","scale":{"domain":[0,50],"nice":false,"zero":false},"axis":{"title":null,"orient":"right","values":[0,10,20,30,40,50],"format":"d","grid":false,"domain":false,"tickColor":"#333333","tickWidth":1.2,"tickSize":10,"labelFontSize":15,"labelColor":"#333333","labelPadding":8,"labelFont":"Liberation Sans"}},
"y2":{"field":"b"},
"color":{"field":"a","type":"quantitative","legend":null,"scale":{"domain":[0,7,9.8,12.3,20,25,31,34.5,37.3,41,44,50],"range":["#aaaaaa","#a020f0","#d01090","#ff0000","#ffa500","#ffff00","#00ff00","#0a6e6e","#0000ff","#6060c8","#aaaab4","#ffffff"],"clamp":true}}}},
{"width":78,"height":445,"data":{"values":[]},"mark":{"type":"rect"},"encoding":{}},
{"width":391,"height":445,"view":{"fill":"#aaaaaa","stroke":null},
"title":{"text":"Arctic Contamination Potential [%]","font":"Liberation Sans","fontSize":18.7,"fontWeight":"bold","color":"#222222","offset":20},
"encoding":{
"x":{"field":"x","type":"quantitative","scale":{"domain":[3,12],"nice":false,"zero":false},"axis":{"title":"log Koa","values":[3,4,5,6,7,8,9,10,11,12],"format":"d","grid":true,"gridColor":"#1a1a1a","gridWidth":1.5,"gridOpacity":1,"zindex":1,"domain":false,"tickColor":"#333333","tickWidth":1.2,"tickSize":8,"labelFontSize":15,"labelColor":"#333333","labelPadding":10,"labelFont":"Liberation Sans","titleFont":"Liberation Sans","titleFontSize":15.5,"titleFontWeight":"normal","titleColor":"#333333","titlePadding":24,"labelOverlap":false}},
"y":{"field":"y","type":"quantitative","scale":{"domain":[-4,3],"nice":false,"zero":false},"axis":{"title":"Log Kaw","values":[-4,-3,-2,-1,0,1,2,3],"labelExpr":"'' + datum.value","grid":true,"gridColor":"#1a1a1a","gridWidth":1.5,"gridOpacity":1,"zindex":1,"domain":false,"tickColor":"#333333","tickWidth":1.2,"tickSize":11,"labelFontSize":15,"labelColor":"#333333","labelPadding":9,"labelFont":"Liberation Sans","titleFont":"Liberation Sans","titleFontSize":15.5,"titleFontWeight":"normal","titleColor":"#333333","titlePadding":24,"labelOverlap":false}},
"color":{"field":"v","type":"quantitative","legend":null,"scale":{"domain":[0,7,9.8,12.3,20,25,31,34.5,37.3,41,44,50],"range":["#aaaaaa","#a020f0","#d01090","#ff0000","#ffa500","#ffff00","#00ff00","#0a6e6e","#0000ff","#6060c8","#aaaab4","#ffffff"],"clamp":true}}},
"layer":[
{"data":{"name":"b_c"},"mark":{"type":"rect","width":22.3,"height":32.4,"clip":true}},
{"data":{"name":"b_w"},"mark":{"type":"rect","width":22.3,"height":16.5,"clip":true}},
{"data":{"name":"b_m"},"mark":{"type":"rect","width":11.5,"height":16.5,"clip":true}},
{"data":{"name":"b_f"},"mark":{"type":"rect","width":6,"height":8.6,"clip":true}}]},
{"width":36,"height":445,"data":{"name":"bar"},"mark":{"type":"rect","stroke":"#333333","strokeWidth":1.5},
"encoding":{
"y":{"field":"a","type":"quantitative","scale":{"domain":[0,50],"nice":false,"zero":false},"axis":{"title":null,"orient":"right","values":[0,10,20,30,40,50],"format":"d","grid":false,"domain":false,"tickColor":"#333333","tickWidth":1.2,"tickSize":10,"labelFontSize":15,"labelColor":"#333333","labelPadding":8,"labelFont":"Liberation Sans"}},
"y2":{"field":"b"},
"color":{"field":"a","type":"quantitative","legend":null,"scale":{"domain":[0,7,9.8,12.3,20,25,31,34.5,37.3,41,44,50],"range":["#aaaaaa","#a020f0","#d01090","#ff0000","#ffa500","#ffff00","#00ff00","#0a6e6e","#0000ff","#6060c8","#aaaab4","#ffffff"],"clamp":true}}}}
]}
